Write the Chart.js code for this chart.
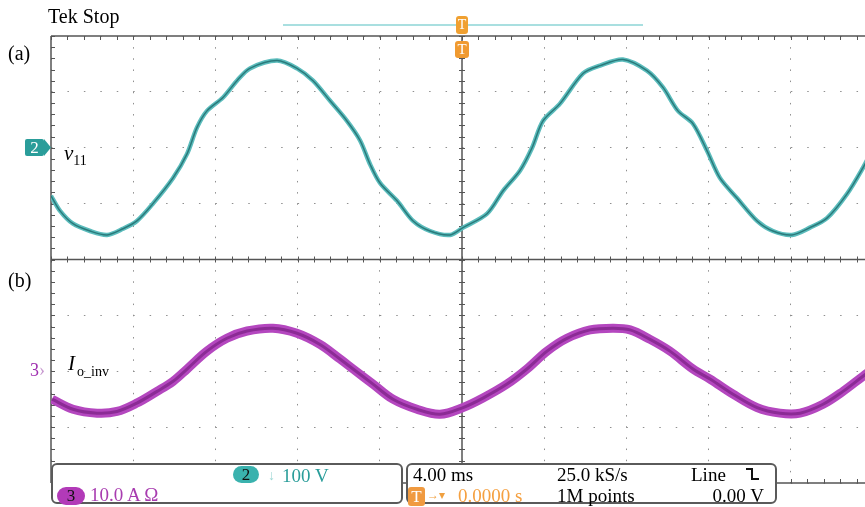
<!DOCTYPE html>
<html>
<head>
<meta charset="utf-8">
<script src="https://cdn.jsdelivr.net/npm/chart.js@4"></script>
<style>
  body { margin: 0; width: 865px; height: 507px; overflow: hidden; background: #fff; position: relative;
         font-family: "Liberation Serif", "DejaVu Serif", serif; }
  #wrap { position: absolute; left: 0; top: 0; width: 880px; height: 507px; }
  .txt { position: absolute; white-space: nowrap; line-height: 1; }
  .box { position: absolute; top: 463px; height: 41px; background: #fff; border: 2px solid #5a5a5a; border-radius: 6px; box-sizing: border-box; }
  .pill { position: absolute; border-radius: 9px; text-align: center; font-size: 17px; line-height: 17px; color: #111; }
</style>
</head>
<body>
<div id="wrap"><canvas id="scope"></canvas></div>

<!-- overlay texts -->
<div class="txt" style="left:48px;top:6px;font-size:20px;">Tek Stop</div>
<div class="txt" style="left:8px;top:43px;font-size:20px;">(a)</div>
<div class="txt" style="left:8px;top:270px;font-size:20px;">(b)</div>

<div style="position:absolute;left:283px;top:24px;width:360px;height:2px;background:#a9dfe0;"></div>
<div class="txt" style="left:456px;top:16px;width:12px;height:18px;background:#f0a030;border-radius:3px;color:#fff;font-size:14px;text-align:center;line-height:18px;">T</div>
<div class="txt" style="left:455px;top:41px;width:14px;height:17px;background:#f09a30;border-radius:3px;color:#fff;font-size:15px;text-align:center;line-height:17px;">T</div>

<div class="txt" style="left:25px;top:139px;width:19px;height:17px;background:#2a9d9a;border-radius:2px;color:#fff;font-size:17px;text-align:center;line-height:17px;">2</div>
<svg style="position:absolute;left:44px;top:139px;" width="8" height="17"><path d="M0 0 L7 8.5 L0 17 Z" fill="#2a9d9a"/></svg>
<div class="txt" id="v11" style="left:64px;top:143px;font-size:21px;font-style:italic;">v<span style="font-style:normal;font-size:14px;position:relative;top:5px;">11</span></div>

<div class="txt" style="left:30px;top:361px;font-size:18px;color:#a030b0;">3<span style="color:#c89ad0;">&#x203A;</span></div>
<div class="txt" style="left:68px;top:353px;font-size:21px;font-style:italic;">I<span style="font-style:normal;font-size:14px;position:relative;top:6px;margin-left:2px;">o_inv</span></div>

<div class="box" style="left:51px;width:352px;"></div>
<div class="pill" style="left:233px;top:466px;width:26px;height:17px;background:#3ab2ae;">2</div>
<div class="txt" style="left:268px;top:469px;font-size:14px;color:#9fd8d6;">&#x2193;</div>
<div class="txt" id="ch2Scale" style="left:282px;top:466px;font-size:19px;color:#2a9d9a;"></div>
<div class="pill" style="left:57px;top:487px;width:28px;height:18px;line-height:18px;background:#b23ab8;">3</div>
<div class="txt" id="ch3Scale" style="left:90px;top:485px;font-size:19px;color:#a83cb0;"></div>

<div class="box" style="left:406px;width:371px;"></div>
<div class="txt" id="timeDiv" style="left:413px;top:465px;font-size:19px;"></div>
<div class="txt" id="sampleRate" style="left:557px;top:465px;font-size:19px;"></div>
<div class="txt" id="trigSrc" style="left:691px;top:465px;font-size:19px;"></div>
<svg style="position:absolute;left:745px;top:467px;" width="16" height="14"><path d="M1 2 H7 V12 H14" stroke="#111" stroke-width="2" fill="none"/></svg>
<div class="txt" style="left:408px;top:487px;width:17px;height:19px;background:#f09a40;border-radius:3px;color:#fff;font-size:17px;text-align:center;line-height:19px;">T</div>
<div class="txt" style="left:427px;top:489px;font-size:12px;color:#f0a040;">&#x2192;&#x25BE;</div>
<div class="txt" id="trigPos" style="left:458px;top:486px;font-size:19px;color:#f5a040;"></div>
<div class="txt" id="recLen" style="left:557px;top:486px;font-size:19px;"></div>
<div class="txt" id="trigLevel" style="right:101px;top:486px;font-size:19px;"></div>

<script>
// Channel 2: v11 (V) vs time (ms)
const timeV = [-20.0, -19.56, -18.93, -18.10, -17.27, -16.50, -15.82, -15.04, -14.06, -13.38, -12.90, -12.41,
  -11.63, -10.95, -10.32, -9.00, -8.03, -7.25, -6.42, -5.60, -4.96, -4.48, -3.99, -3.16, -2.38, -1.56, -0.58,
  0.05, 1.22, 2.00, 2.82, 3.41, 3.94, 4.77, 5.89, 6.72, 7.83, 9.00, 9.78, 10.51, 11.24, 11.92, 12.55, 13.38,
  14.36, 15.13, 16.06, 16.93, 17.76, 18.73, 19.51, 20.0];
const v11 = [-86, -113, -136, -149, -156, -145, -131, -100, -54, -11, 36, 66,
  90, 120, 142, 156, 142, 120, 84, 48, 13, -29, -63, -95, -131, -149, -156,
  -143, -118, -77, -41, 0, 48, 79, 133, 147, 158, 138, 108, 66, 43, -5, -54, -90,
  -131, -149, -156, -143, -126, -83, -36, -2];

// Channel 3: Io_inv (A) vs time (ms)
const timeI = [-19.95, -18.93, -17.76, -16.79, -15.82, -14.84, -14.06, -13.38, -12.41, -11.44, -10.46, -9.20,
  -8.03, -6.91, -5.94, -5.30, -4.33, -3.36, -2.19, -1.07, 0.05, 1.02, 2.19, 3.16, 4.14, 5.11, 6.23, 7.35,
  8.18, 9.15, 10.12, 11.24, 12.07, 13.19, 14.36, 15.47, 16.45, 17.57, 18.54, 19.51, 20.0];
const ioInv = [-5.0, -6.8, -7.5, -7.2, -5.7, -3.6, -1.8, 0.4, 3.6, 5.9, 7.2, 7.7,
  6.8, 4.8, 2.2, 0.4, -2.3, -5.0, -6.8, -7.7, -6.5, -4.8, -2.3, 0.4, 3.6, 5.9, 7.4, 7.7,
  7.4, 5.7, 3.6, 0.4, -1.4, -4.1, -6.5, -7.5, -7.5, -5.9, -3.6, -0.9, 0.4];

// readouts
const ch2Scale = "100 V";
const ch3Scale = "10.0 A \u03A9";
const timeDiv = "4.00 ms";
const sampleRate = "25.0 kS/s";
const trigSrc = "Line";
const trigPos = "0.0000 s";
const recLen = "1M points";
const trigLevel = "0.00 V";

document.getElementById("ch2Scale").textContent = ch2Scale;
document.getElementById("ch3Scale").textContent = ch3Scale;
document.getElementById("timeDiv").textContent = timeDiv;
document.getElementById("sampleRate").textContent = sampleRate;
document.getElementById("trigSrc").textContent = trigSrc;
document.getElementById("trigPos").textContent = trigPos;
document.getElementById("recLen").textContent = recLen;
document.getElementById("trigLevel").textContent = trigLevel;

const pts = (xs, ys) => xs.map((t, i) => ({ x: t, y: ys[i] }));

// scope frame: border, center cross and minor ticks
const scopeFrame = {
  id: "scopeFrame",
  beforeDatasetsDraw(chart) {
    const { ctx, chartArea: a, scales: { x, y } } = chart;
    const cx = x.getPixelForValue(0);
    const cy = y.getPixelForValue(-200);
    ctx.save();
    ctx.strokeStyle = "#555";
    ctx.lineWidth = 1.5;
    ctx.beginPath();
    ctx.moveTo(a.left, a.top); ctx.lineTo(a.right, a.top);
    ctx.moveTo(a.left, a.bottom); ctx.lineTo(a.right, a.bottom);
    ctx.moveTo(a.left, a.top); ctx.lineTo(a.left, a.bottom);
    ctx.moveTo(a.left, cy); ctx.lineTo(a.right, cy);
    ctx.moveTo(cx, a.top); ctx.lineTo(cx, a.bottom);
    ctx.stroke();
    ctx.lineWidth = 1;
    ctx.beginPath();
    for (let t = -20; t <= 20.001; t += 0.8) {
      const px = Math.round(x.getPixelForValue(t)) + 0.5;
      ctx.moveTo(px, a.top); ctx.lineTo(px, a.top + 4);
      ctx.moveTo(px, cy - 3); ctx.lineTo(px, cy + 3);
      ctx.moveTo(px, a.bottom - 4); ctx.lineTo(px, a.bottom);
    }
    for (let v = -600; v <= 200.001; v += 20) {
      const py = Math.round(y.getPixelForValue(v)) + 0.5;
      ctx.moveTo(a.left, py); ctx.lineTo(a.left + 4, py);
      ctx.moveTo(cx - 3, py); ctx.lineTo(cx + 3, py);
    }
    ctx.stroke();
    ctx.restore();
  }
};

new Chart(document.getElementById("scope"), {
  type: "line",
  data: {
    datasets: [
      { data: pts(timeI, ioInv), yAxisID: "yI", order: 3, borderColor: "#b447bf", borderWidth: 9, pointRadius: 0, tension: 0.35 },
      { data: pts(timeI, ioInv), yAxisID: "yI", order: 2, borderColor: "rgba(105,20,115,0.55)", borderWidth: 3, pointRadius: 0, tension: 0.35 },
      { data: pts(timeV, v11), yAxisID: "y", order: 1, borderColor: "#5bbcbc", borderWidth: 4.5, pointRadius: 0, tension: 0.3 },
      { data: pts(timeV, v11), yAxisID: "y", order: 0, borderColor: "#2a7a7b", borderWidth: 1.5, pointRadius: 0, tension: 0.3 }
    ]
  },
  options: {
    responsive: true,
    maintainAspectRatio: false,
    animation: false,
    layout: { padding: { left: 51, top: 36, right: 7, bottom: 24 } },
    plugins: { legend: { display: false }, tooltip: { enabled: false } },
    scales: {
      x: {
        type: "linear", min: -20, max: 20,
        ticks: { display: false, stepSize: 4 },
        grid: { color: "#8f8f8f", lineWidth: 1, drawTicks: false },
        border: { display: false, dash: [1.5, 9.65] }
      },
      y: {
        min: -600, max: 200,
        ticks: { display: false, stepSize: 100 },
        grid: { color: "#8f8f8f", lineWidth: 1, drawTicks: false },
        border: { display: false, dash: [1.5, 14.94] }
      },
      yI: {
        display: false, min: -20, max: 60
      }
    }
  },
  plugins: [scopeFrame]
});
</script>
</body>
</html>
